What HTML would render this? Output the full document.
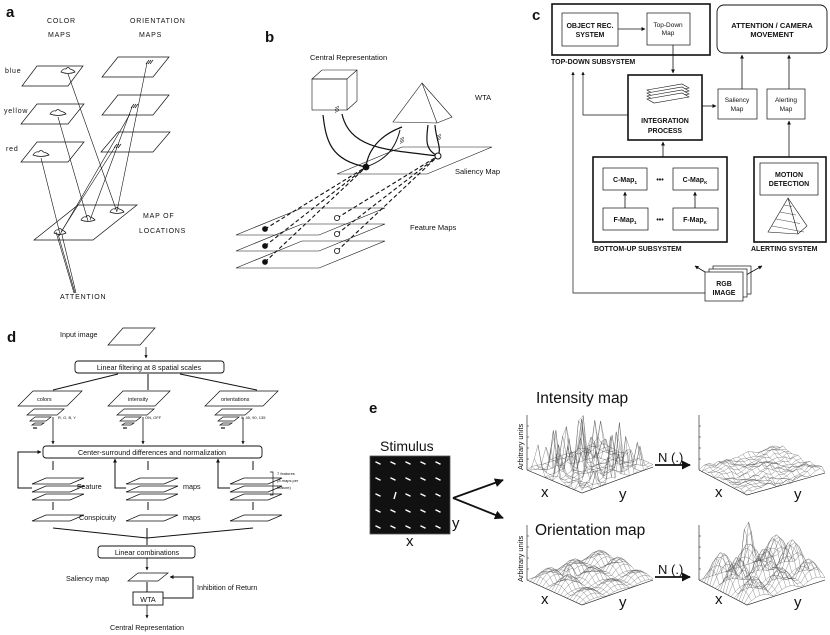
<!DOCTYPE html>
<html><head><meta charset="utf-8"><style>
html,body{margin:0;padding:0;background:#fff}
svg{display:block}
text{font-family:"Liberation Sans",sans-serif;fill:#111}
.s{font-family:"Liberation Serif",serif;font-weight:bold}
</style></head><body>
<svg id="sv" width="830" height="635" viewBox="0 0 830 635" xmlns="http://www.w3.org/2000/svg">
<defs>
<marker id="ah" viewBox="0 0 10 10" refX="9" refY="5" markerWidth="5" markerHeight="5" orient="auto"><path d="M0,0L10,5L0,10z" fill="#111"/></marker>
<marker id="ab" viewBox="0 0 10 10" refX="9" refY="5" markerWidth="4" markerHeight="4" orient="auto"><path d="M0,0L10,5L0,10z" fill="#111"/></marker>
</defs>
<g id="g" fill="none" stroke="#111" stroke-width="0.8"></g>

<text x="6" y="17" font-size="15" font-weight="bold">a</text>
<text x="265" y="42" font-size="15" font-weight="bold">b</text>
<text x="532" y="20" font-size="15" font-weight="bold">c</text>
<text x="7" y="342" font-size="15" font-weight="bold">d</text>
<text x="369" y="413" font-size="15" font-weight="bold">e</text>

<g font-size="7" letter-spacing="0.8">
<text x="47" y="23">COLOR</text><text x="48" y="37">MAPS</text>
<text x="130" y="23">ORIENTATION</text><text x="139" y="37">MAPS</text>
<text x="5" y="73">blue</text><text x="4" y="113">yellow</text><text x="6" y="151">red</text>
<text x="143" y="218">MAP OF</text><text x="139" y="233">LOCATIONS</text>
<text x="60" y="299">ATTENTION</text>
</g>

<g font-size="7.5">
<text x="310" y="60">Central Representation</text>
<text x="475" y="100">WTA</text>
<text x="455" y="174">Saliency Map</text>
<text x="410" y="230">Feature Maps</text>
</g>

<g class="s" font-size="7" text-anchor="middle">
<text x="590" y="28">OBJECT REC.</text><text x="590" y="37">SYSTEM</text>
<text x="668" y="27" font-weight="normal" font-size="6.5">Top-Down</text><text x="668" y="35" font-weight="normal" font-size="6.5">Map</text>
<text x="772" y="28" font-size="7.5">ATTENTION / CAMERA</text><text x="772" y="37" font-size="7.5">MOVEMENT</text>
<text x="665" y="123">INTEGRATION</text><text x="665" y="133">PROCESS</text>
<text x="737" y="102" font-weight="normal" font-size="6.5">Saliency</text><text x="737" y="111" font-weight="normal" font-size="6.5">Map</text>
<text x="786" y="102" font-weight="normal" font-size="6.5">Alerting</text><text x="786" y="111" font-weight="normal" font-size="6.5">Map</text>
<text x="625" y="182">C-Map<tspan font-size="4.5" dy="2">1</tspan></text>
<text x="695" y="182">C-Map<tspan font-size="4.5" dy="2">K</tspan></text>
<text x="625" y="222">F-Map<tspan font-size="4.5" dy="2">1</tspan></text>
<text x="695" y="222">F-Map<tspan font-size="4.5" dy="2">K</tspan></text>
<text x="660" y="182">•••</text><text x="660" y="222">•••</text>
<text x="789" y="177">MOTION</text><text x="789" y="186">DETECTION</text>
<text x="724" y="286">RGB</text><text x="724" y="295">IMAGE</text>
</g>
<g class="s" font-size="7">
<text x="551" y="64">TOP-DOWN SUBSYSTEM</text>
<text x="594" y="251">BOTTOM-UP SUBSYSTEM</text>
<text x="751" y="251">ALERTING SYSTEM</text>
</g>

<g font-size="7.2">
<text x="60" y="337">Input image</text>
<text x="149" y="370" text-anchor="middle">Linear filtering at 8 spatial scales</text>
<text x="152" y="455" text-anchor="middle">Center-surround differences and normalization</text>
<text x="147" y="555" text-anchor="middle">Linear combinations</text>
<text x="148" y="602" text-anchor="middle">WTA</text>
<text x="77" y="489">Feature</text><text x="183" y="489">maps</text>
<text x="79" y="520">Conspicuity</text><text x="183" y="520">maps</text>
<text x="66" y="581">Saliency map</text>
<text x="197" y="590">Inhibition of Return</text>
<text x="147" y="630" text-anchor="middle">Central Representation</text>
</g>
<g font-size="5.5">
<text x="37" y="401">colors</text><text x="128" y="401">intensity</text><text x="221" y="401">orientations</text>
</g>
<g font-size="4">
<text x="58" y="419">R, G, B, Y</text><text x="145" y="419">ON, OFF</text><text x="241" y="419">0, 45, 90, 135</text>
<text x="277" y="475">7 features</text><text x="277" y="482">(8 maps per</text><text x="277" y="489">feature)</text>
</g>

<g font-size="15">
<text x="380" y="451" font-size="14">Stimulus</text>
<text x="536" y="403" font-size="15.5">Intensity map</text>
<text x="535" y="535" font-size="15.5">Orientation map</text>
<text x="452" y="528">y</text><text x="406" y="546">x</text>
<text x="541" y="497">x</text><text x="619" y="499">y</text>
<text x="715" y="497">x</text><text x="794" y="499">y</text>
<text x="541" y="604">x</text><text x="619" y="607">y</text>
<text x="715" y="604">x</text><text x="794" y="607">y</text>
<text x="658" y="462" font-size="13">N (.)</text>
<text x="658" y="574" font-size="13">N (.)</text>
</g>
<g font-size="7.5">
<text transform="translate(523,470) rotate(-90)">Arbitrary units</text>
<text transform="translate(523,582) rotate(-90)">Arbitrary units</text>
</g>

<script>
(function(){
var g=document.getElementById('g'),NS='http://www.w3.org/2000/svg';
function el(t,a){var e=document.createElementNS(NS,t);for(var k in a)e.setAttribute(k,a[k]);g.appendChild(e);return e;}
function L(x1,y1,x2,y2,o){var a={x1:x1,y1:y1,x2:x2,y2:y2};for(var k in o)a[k]=o[k];return el('line',a);}
function P(pts,o){var a={points:pts.map(function(p){return p.join(',')}).join(' ')};for(var k in o)a[k]=o[k];return el('polygon',a);}
function PL(pts,o){var a={points:pts.map(function(p){return p.join(',')}).join(' ')};for(var k in o)a[k]=o[k];return el('polyline',a);}
function R(x,y,w,h,o){var a={x:x,y:y,width:w,height:h};for(var k in o)a[k]=o[k];return el('rect',a);}
function PA(d,o){var a={d:d};for(var k in o)a[k]=o[k];return el('path',a);}
function C(x,y,r,o){var a={cx:x,cy:y,r:r};for(var k in o)a[k]=o[k];return el('circle',a);}
function para(x,y,w,h,sk,o){return P([[x+sk,y],[x+sk+w,y],[x+w,y+h],[x,y+h]],o);}
var AR={'marker-end':'url(#ah)'},AB={'marker-end':'url(#ab)'};

var o0={'stroke-width':0.7};
para(22,66,46,20,15,o0);para(21,104,47,20,16,o0);para(21,142,47,20,16,o0);
para(102,57,51,20,16,o0);para(102,95,51,20,16,o0);para(101,132,52,20,17,o0);
para(34,205,59,35,44,o0);
function blob(x,y,w){PA('M'+(x-w)+','+y+' q'+(w*0.3)+',-4 '+(w*0.7)+',-3 q'+(w*0.3)+',-3 '+(w*0.6)+',0 q'+(w*0.5)+',1 '+(w*0.7)+',3 q-'+(w)+',3 -'+(w*2)+',0z',{'stroke-width':0.7});}
blob(68,72,7);blob(58,114,8);blob(41,155,8);
blob(60,233,6);blob(88,220,7);blob(117,212,7);
for(var i=0;i<3;i++){L(146+i*2,64,149+i*2,60,o0);L(131+i*2,108,134+i*2,104,o0);L(114+i*2,148,117+i*2,144,o0);}
var lo={'stroke-width':0.6};
L(68,74,117,212,lo);L(58,117,88,221,lo);L(41,158,60,234,lo);
L(147,63,117,211,lo);L(132,107,90,220,lo);L(115,147,61,232,lo);
L(75,293,58,234,lo);L(76,293,62,235,lo);L(74,293,56,232,lo);
L(59,236,130,114,lo);

var bo={'stroke-width':0.6};
R(312,79,35,31,bo);P([[312,79],[322,70],[357,70],[347,79]],bo);L(357,70,357,101,bo);L(357,101,347,110,bo);
P([[422,83],[393,122],[437,123],[452,117]],bo);L(422,83,437,123,bo);
para(337,147,90,27,65,bo);
para(236,208,83,27,66,bo);para(236,224,83,27,66,bo);para(236,241,83,27,66,bo);
var cb={'stroke-width':1.2};
PA('M323,115 C326,140 330,160 366,167',cb);PA('M342,114 C350,150 390,150 438,156',cb);
PA('M402,127 C380,135 368,150 366,167',cb);PA('M400,130 C395,150 385,160 366,167',{'stroke-width':1});
PA('M428,125 C426,140 425,150 438,156',cb);PA('M435,125 C436,140 442,148 438,156',cb);
var dsh={'stroke-width':1.1,'stroke-dasharray':'4,2.5'};
[229,246,262].forEach(function(y){L(265,y,366,167,dsh);C(265,y,2.5,{fill:'#111'});});
[218,234,251].forEach(function(y){L(337,y,438,156,dsh);C(337,y,2.6,{fill:'#fff','stroke-width':0.8});});
C(366,167,3,{fill:'#111'});C(438,156,3,{fill:'#fff','stroke-width':1});
for(var i=0;i<4;i++){L(335,108+i*1.5,339,106+i*1.5,{'stroke-width':0.5});L(400,139+i*1.5,404,137+i*1.5,{'stroke-width':0.5});L(437,136+i*1.5,441,134+i*1.5,{'stroke-width':0.5});}

var tk={'stroke-width':1.6},th={'stroke-width':0.7};
R(552,4,158,51,tk);R(562,13,56,33,th);R(647,13,43,32,th);L(618,29,645,29,AR);
R(717,5,110,48,{rx:7,'stroke-width':0.9});
R(628,75,74,65,tk);
for(var i=0;i<4;i++)P([[647,90+i*3],[682,84+i*3],[689,88+i*3],[654,94+i*3]],{'stroke-width':0.6,fill:'#fff'});
R(718,89,39,30,th);R(767,89,38,30,th);
L(673,45,673,73,AR);L(702,106,716,106,AR);L(742,89,742,55,AR);L(789,89,789,55,AR);
R(593,157,134,85,tk);R(603,168,44,22,th);R(673,168,45,22,th);R(603,208,45,22,th);R(673,208,45,22,th);
L(625,208,625,192,AR);L(695,208,695,192,AR);
R(754,157,72,85,tk);R(760,163,58,32,th);
P([[788,198],[768,232],[798,234],[807,226]],{'stroke-width':0.6});L(788,198,798,234,{'stroke-width':0.6});
for(var i=1;i<5;i++){var y=198+i*7;L(788-i*4,y,788+i*4,y+i*1.5,{'stroke-width':0.4});}
L(663,157,663,142,AR);L(789,157,789,121,AR);
L(725,284,695,266,AR);L(730,284,762,266,AR);
R(713,266,38,28,th);R(709,269,38,28,Object.assign({fill:'#fff'},th));R(705,272,38,29,Object.assign({fill:'#fff'},th));
PL([[705,293],[573,293],[573,72]],Object.assign({'marker-end':'url(#ah)'},th));
PL([[628,115],[583,115],[583,72]],Object.assign({'marker-end':'url(#ah)'},th));

var dt={'stroke-width':0.7};
para(108,328,32,17,15,dt);L(146,347,146,358,AB);
R(75,361,149,12,{rx:3,'stroke-width':0.9});
var tl={'stroke-width':1};
L(118,374,53,390,tl);L(148,374,148,390,tl);L(180,374,257,390,tl);
para(18,391,49,15,15,dt);para(108,391,47,15,15,dt);para(205,391,58,15,15,dt);
[[27,63],[117,153],[215,253]].forEach(function(p){var x0=p[0];
para(x0,409,30,6,7,dt);para(x0+3,417,16,4,5,dt);para(x0+5,423,9,2,3,dt);L(x0+6,428,x0+10,428,{'stroke-width':1.2});
L(p[1]-10,417,p[1]-10,444,AB);});
R(43,446,219,12,{rx:3,'stroke-width':0.9});
[[32,53],[126,148],[230,253]].forEach(function(p){var x=p[0],cx=p[1];
L(cx,461,cx,470,tl);
for(var i=0;i<3;i++)para(x,478+i*8,38,6,14,Object.assign({fill:'#fff'},dt));
L(cx,502,cx,510,tl);para(x,515,38,6,14,dt);});
PL([[32,488],[18,488],[18,452],[41,452]],Object.assign({'stroke-width':1},AB));
PL([[126,488],[115,488],[115,459]],Object.assign({'stroke-width':1},AB));
PL([[230,488],[218,488],[218,459]],Object.assign({'stroke-width':1},AB));
PL([[270,472],[273,472],[273,495],[270,495]],dt);
L(53,528,147,538,tl);L(253,528,147,538,tl);L(147,528,147,545,tl);
R(98,546,97,12,{rx:3,'stroke-width':0.9});
L(147,558,147,570,AB);
para(128,573,30,8,10,dt);L(147,582,147,592,tl);
R(133,592,30,13,{'stroke-width':0.9});
PL([[163,598],[193,598],[193,577],[170,577]],Object.assign({'stroke-width':1},AB));
L(147,605,147,618,AB);

R(370,456,80,78,{fill:'#111',stroke:'#555'});
var seed=7;function rnd(){seed=(seed*16807)%2147483647;return seed/2147483647;}
for(var r=0;r<5;r++)for(var c=0;c<5;c++){var x=378+c*15,y=463+r*16,ang=0.45;
if(r==2&&c==1){L(x+1,y+4,x+3,y-3,{stroke:'#fff','stroke-width':1.4});continue;}
var dx=2.8*Math.cos(ang),dy=2.8*Math.sin(ang);L(x-dx,y-dy,x+dx,y+dy,{stroke:'#fff','stroke-width':1.4});}
L(453,498,503,480,Object.assign({'stroke-width':1.8},AR));L(453,498,503,518,Object.assign({'stroke-width':1.8},AR));
L(655,465,690,465,Object.assign({'stroke-width':1.8},AR));L(655,577,690,577,Object.assign({'stroke-width':1.8},AR));

function plot(A,B,Cc,H,fn,n){
var ux=B[0]-A[0],uy=B[1]-A[1],vx=Cc[0]-B[0],vy=Cc[1]-B[1];
L(A[0],A[1]-H,A[0],A[1],{'stroke-width':0.6});PL([A,B,Cc],{'stroke-width':0.6});
for(var t=1;t<5;t++)L(A[0],A[1]-H*t/5,A[0]+2,A[1]-H*t/5,{'stroke-width':0.5});
var hs=[];for(var i=0;i<=n;i++){hs[i]=[];for(var j=0;j<=n;j++)hs[i][j]=fn(i/n,j/n);}
function pt(i,j){var u=i/n,v=j/n;return [(A[0]+u*ux+v*vx).toFixed(1),(A[1]+u*uy+v*vy-hs[i][j]).toFixed(1)];}
var s={'stroke-width':0.3,stroke:'#444',fill:'none'};
for(var i=0;i<=n;i++){var a=[];for(var j=0;j<=n;j++)a.push(pt(i,j));PL(a,s);}
for(var j=0;j<=n;j++){var a=[];for(var i=0;i<=n;i++)a.push(pt(i,j));PL(a,s);}
}
seed=11;plot([527,470],[582,493],[653,467],55,function(u,v){var r=rnd();return r>0.78?(r-0.78)*4.5*50*(0.6+0.4*Math.sin(v*3)):r*4;},15);
seed=5;plot([699,470],[747,495],[825,473],55,function(u,v){return rnd()*5+3*Math.sin(u*9)*Math.sin(v*9);},16);
plot([527,580],[582,605],[653,580],55,function(u,v){var s=Math.abs(Math.sin(u*9)*Math.sin(v*9));return s*14*(0.5+0.5*Math.sin(u*3+0.3))+((Math.abs(u-0.3)<0.06&&Math.abs(v-0.35)<0.06)?10:0);},18);
plot([699,580],[747,605],[825,580],55,function(u,v){var s=Math.abs(Math.sin(u*9)*Math.sin(v*9));return s*32*(0.5+0.5*Math.sin(u*3+0.3))+((Math.abs(u-0.25)<0.05&&Math.abs(v-0.45)<0.05)?25:0);},18);
})();
</script>
</svg>
</body></html>
